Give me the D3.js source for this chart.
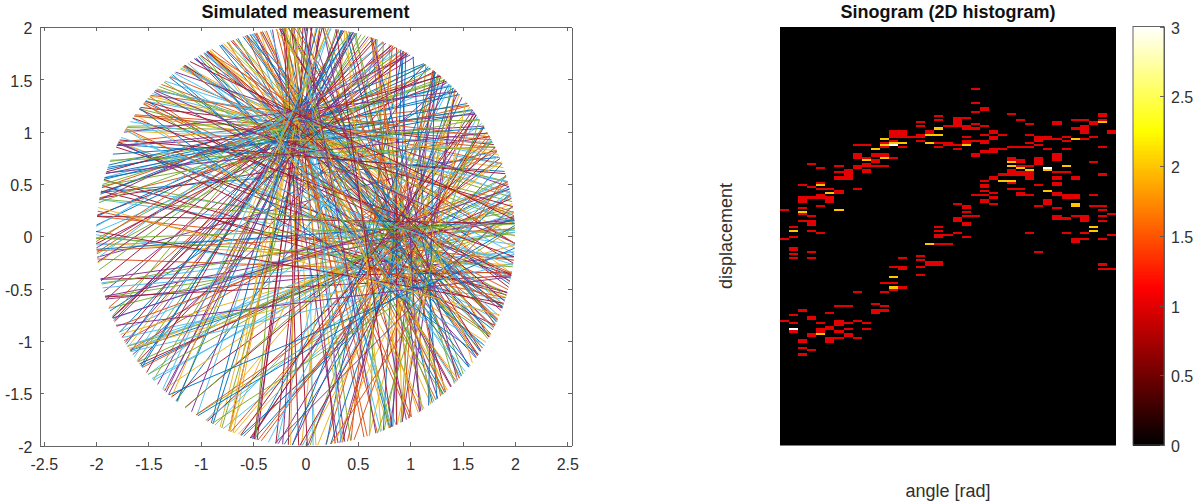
<!DOCTYPE html>
<html lang="en">
<head>
<meta charset="UTF-8">
<title>Simulated measurement and sinogram</title>
<script src="https://d3js.org/d3.v7.min.js"></script>
<style>
    body { margin: 0; background: #fff; font-family: "Liberation Sans", Arial, sans-serif; }
    svg { display: block; }
    .tick text { font-size: 16px; fill: #303030; font-family: "Liberation Sans", Arial, sans-serif; }
    .axis path, .axis line { stroke: #555; stroke-width: 0.9px; shape-rendering: crispEdges; }
    .chart-title { font-size: 18px; font-weight: bold; text-anchor: middle; fill: #111; }
    .axis-label { font-size: 18px; text-anchor: middle; fill: #303030; }
</style>
</head>
<body>
<svg width="1199" height="504"></svg>
<script>
// tick labels
const xTicks = [-2.5, -2, -1.5, -1, -0.5, 0, 0.5, 1, 1.5, 2, 2.5];
const yTicks = [-2, -1.5, -1, -0.5, 0, 0.5, 1, 1.5, 2];
const barTicks = [0, 0.5, 1, 1.5, 2, 2.5, 3];

// the spots the measured lines cross (C is the loose middle group)
const focusA = [-0.05, 1.0];
const focusB = [0.95, -0.2];
const focusC = [0.45, 0.35];

// line direction in degrees and how far it misses the spot
const anglesA = [
    12,97,43,151,71,168,28,120,3,84,137,56,176,18,105,64,143,35,91,160,
    8,128,49,77,172,23,112,59,146,38,88,156,15,101,68,133,31,174,52,117,
    6,81,140,46,94,163,21,124,62,178,10,108,74,149,33,86,166,26,114,55,
    136,41,99,170,14,79,130,50,158,19,104,66,144,36,92,175,5,122,58,153,
    29,83,139,45,110,72,165,17,96,126,53,147,9,76,179,39,116,61,155,24,
    89,134,47,102,69,162,13,119,1,82,142,34,107,57,171,20,93,129,44,152,
    11,78,167,27,113,63,138,4,98,159,
    16,173,7,169,22,177,2,164,14,157,37,125,80,103,60,148,25,95,54,118,
    10,175,19,161,30,131,67,85,42,141,6,171,75,109,50,154,33,100,65,127
];
const missA = [
    .03,-.06,.09,-.02,.05,-.1,.01,.07,-.04,-.08,.02,.11,-.05,.04,-.09,.06,-.01,.08,-.07,.03,
    -.03,.1,-.06,.02,.07,-.12,.04,-.02,.09,-.05,.01,-.08,.06,-.04,.12,-.01,.05,-.07,.03,-.1,
    .08,-.03,.02,-.09,.06,.01,-.05,.1,-.02,.04,-.11,.07,-.06,.03,.09,-.04,-.01,.05,-.08,.02,
    .06,-.07,.11,-.03,.01,.08,-.1,.04,-.02,.07,-.05,.03,-.09,.06,.12,-.01,.02,-.06,.09,-.04,
    -.08,.05,.01,-.03,.1,-.07,.04,.07,-.02,-.11,.03,.08,-.05,.06,-.01,.09,-.04,.02,-.07,.05,
    .04,-.09,.07,-.02,.01,-.06,.1,-.03,.08,.03,-.1,.05,-.01,.06,-.08,.02,.09,-.05,-.03,.07,
    -.04,.06,.02,-.07,.11,-.02,.04,-.09,.01,.08,
    .14,-.17,.2,-.12,.16,.08,-.21,.13,-.15,.18,.2,-.14,.17,-.2,.12,-.18,.22,-.13,.15,.2,
    -.18,.23,.11,-.15,.19,-.22,.14,.17,-.12,.21,-.2,.16,.1,-.19,.24,-.14,.18,-.21,.15,-.11
];
const anglesB = [
    145,32,88,6,118,61,171,44,100,19,135,75,157,2,52,110,26,82,164,128,
    39,96,14,150,67,123,177,30,85,9,141,56,105,21,161,73,116,48,133,3,
    92,169,36,126,59,12,103,147,79,24,174,64,138,42,113,17,154,70,97,7,
    130,50,86,166,27,121,62,143,34,108,1,77,159,46,94,16,136,55,178,83,
    22,115,68,148,40,101,11,172,58,125,29,90,153,74,5,139,47,106,163,35,
    81,19,131,65,176,43,111,8,146,71,99,25,156,53,119,37,87,15,134,60,
    168,104,28,142,76,10,122,49,93,151,
    4,137,112,179,20,152,63,89,127,33,170,57,102,13,144,78,41,160,117,7,
    149,31,95,175,54,124,18,162,69,107,2,140,84,45,129,23,165,72,98,155
];
const missB = [
    .14,-.22,.06,-.1,.19,-.04,.25,-.16,.09,.01,-.2,.12,-.07,.22,.03,-.14,.17,-.25,.08,-.01,
    -.18,.1,.21,-.06,.15,-.26,.02,.18,-.11,.07,-.21,.25,-.04,.11,-.14,.2,.04,-.09,.16,-.23,
    .08,-.17,.23,-.02,.12,-.19,.06,.26,-.12,.1,-.08,.18,.01,-.22,.14,-.04,.21,-.14,.03,.11,
    -.25,.17,-.07,.09,.2,-.11,.02,-.18,.24,.07,-.16,.14,-.03,.19,-.21,.04,-.1,.22,.12,-.06,
    .16,-.01,.1,-.2,.25,-.08,.18,-.14,.03,-.24,.21,.08,-.17,.11,-.04,.14,.01,-.12,.19,-.09,
    -.22,.06,.23,-.14,.02,.14,-.07,.2,-.19,.09,-.02,.17,-.26,.04,.22,-.1,.12,-.16,.07,-.03,
    .18,-.2,.11,.03,-.08,.25,-.14,.16,-.06,.1,
    .28,-.31,.26,-.34,.32,-.27,.36,-.25,.3,-.33,.27,-.38,.31,-.29,.34,-.26,.29,-.36,.25,-.31,
    .33,-.28,.37,-.3,.27,-.35,.31,-.25,.36,-.32,.28,-.29,.33,-.38,.24,-.33,.3,-.27,.35,-.29
];
const anglesC = [
    158,24,112,71,5,139,46,93,172,30,125,61,15,150,84,37,104,166,53,118,
    9,143,76,27,98,176,41,131,66,19,155,88,33,109,162,50,123,3,146,79
];
const missC = [
    .32,-.25,.16,-.38,.28,-.13,.4,-.31,.21,-.18,.36,-.27,.1,-.41,.24,-.16,.31,-.35,.19,-.23,
    .39,-.3,.14,-.21,.34,-.37,.26,-.12,.18,-.33,.3,-.24,.37,-.15,.22,-.29,.13,-.36,.35,-.2
];

// sinogram: occupied displacement bins in each of the 37 angle bins
const hitsOnce = [
    [87,101,140],
    [95,100,105,106,108,110,137,141,145],
    [75,81,82,83,86,89,92,135,149,150,153,156],
    [65,76,81,90,92,93,94,97,107,110,138,139,146,147,154],
    [67,74,77,80,81,85,98,141,144,145],
    [77,81,82,83,136,143,144,148,149,150],
    [66,69,71,72,78,79,133,140,141,142,145,148],
    [68,69,70,71,72,133,141,144,146,147],
    [56,60,61,62,66,67,77,126,140,148],
    [56,62,65,66,68,69,141,144],
    [60,61,63,64,66,132,135,136],
    [55,57,60,61,66,122,126,133,135],
    [49,50,51,52,54,62,114,122,125],
    [49,50,51,52,57,110,114,115,124],
    [52],
    [45,47,51,52,54,109,111,114,118],
    [49,50,112,113],
    [42,44,55,57,95,97,99,100,103,112,113],
    [47,55,56,99,103],
    [43,44,45,46,47,56,58,84,91,92,98],
    [43,47,48,52,54,55,85,86,88,90,93,94,100],
    [29,36,40,46,48,54,60,61,80,90],
    [38,39,47,51,54,55,59,73,75,76,78,80,82,83],
    [49,50,52,53,58,59,71,72,79,81,84],
    [51,58,70],
    [41,57,62,63,68,69,70,74,77],
    [44,57,63,64,66,69,70,77,79,80],
    [46,51,55,57,66,69,70,71,72,80,98],
    [52,53,54,56,62,63,64,65,75,85,107],
    [52,53,58,82,83,84],
    [45,46,53,60,61,62,63,69,71,72,74,75,79,80,86,90,91],
    [52,54,58,69,80,81,91,98],
    [44,48,71,72,80,81,90,101,102],
    [44,47,48,49,50,53,90,91,92,98,101],
    [45,46,52,64,80,85],
    [41,42,44,57,70,85,87,90,92,101,113,115],
    [49,50,89,99,115]
];
const hitsTwice = [
    [],[97],[88],[],[75,146],[79],[87],[],[],[63],[58],[53,56,62],[55,119,124],[55],[],[],
    [51,55,103],[48,51],[],[],[56],[],[],[],[73],[64,66,73],[67],[68],[],[68,78],[],[66],
    [53,84,85],[],[95,97],[45],[]
];
const hitsThrice = {1: [144], 12: [56], 29: [67]};

const lineColors = ["#0072BD", "#D95319", "#EDB120", "#7E2F8E", "#77AC30", "#4DBEEE", "#A2142F"];

const svg = d3.select("svg");

// ---- left plot
const x = d3.scaleLinear().domain([-2.536, 2.54]).range([40, 571.5]);
const y = d3.scaleLinear().domain([-2, 2]).range([445.5, 27]);

function chord(focus, angle, miss) {
    const a = angle * Math.PI / 180;
    const dir = [Math.cos(a), Math.sin(a)];
    const nrm = [-dir[1], dir[0]];
    const s = focus[0] * nrm[0] + focus[1] * nrm[1] + miss;
    const h = Math.sqrt(4 - s * s);
    return [
        [s * nrm[0] - h * dir[0], s * nrm[1] - h * dir[1]],
        [s * nrm[0] + h * dir[0], s * nrm[1] + h * dir[1]]
    ];
}

const chords = d3.merge(anglesA.map((a, i) => [
    chord(focusA, a, missA[i]),
    chord(focusB, anglesB[i], missB[i]),
    ...(i < anglesC.length ? [chord(focusC, anglesC[i], missC[i])] : [])
]));
const linePath = d3.line().x(d => x(d[0])).y(d => y(d[1]));

svg.append("g").selectAll("path")
    .data(chords)
    .enter().append("path")
    .attr("d", linePath)
    .attr("fill", "none")
    .attr("stroke", (d, i) => lineColors[i % lineColors.length])
    .attr("stroke-width", 0.95);

svg.append("g").attr("class", "axis").attr("transform", "translate(0,445.5)")
    .call(d3.axisBottom(x).tickValues(xTicks).tickSize(-4).tickSizeOuter(0).tickPadding(13).tickFormat(d => d));
svg.append("g").attr("class", "axis").attr("transform", "translate(0,27)")
    .call(d3.axisTop(x).tickValues(xTicks).tickSize(-4).tickSizeOuter(0).tickFormat(""));
svg.append("g").attr("class", "axis").attr("transform", "translate(40,0)")
    .call(d3.axisLeft(y).tickValues(yTicks).tickSize(-4).tickSizeOuter(0).tickPadding(7.5).tickFormat(d => d))
    .selectAll("text").attr("dy", "0.42em");
svg.append("g").attr("class", "axis").attr("transform", "translate(571.5,0)")
    .call(d3.axisRight(y).tickValues(yTicks).tickSize(-4).tickSizeOuter(0).tickFormat(""));

svg.append("text").attr("class", "chart-title").attr("x", 305.5).attr("y", 18).text("Simulated measurement");

// ---- sinogram
const angleBin = d3.scaleBand().domain(d3.range(hitsOnce.length)).range([780, 1116]);
const dispBin = d3.scaleBand().domain(d3.range(200)).range([27, 445.5]);

const hot = d3.scaleLinear()
    .domain([0, 1.125, 2.25, 3])
    .range(["#000000", "#ff0000", "#ffff00", "#ffffff"]);

const cells = [];
hitsOnce.forEach((rows, col) => rows.forEach(row => cells.push({col, row, count: 1})));
hitsTwice.forEach((rows, col) => rows.forEach(row => cells.push({col, row, count: 2})));
Object.entries(hitsThrice).forEach(([col, rows]) => rows.forEach(row => cells.push({col: +col, row, count: 3})));

svg.append("rect")
    .attr("x", 780).attr("y", 27).attr("width", 336).attr("height", 418.5)
    .attr("fill", hot(0));

svg.append("g").attr("shape-rendering", "crispEdges").selectAll("rect")
    .data(cells)
    .enter().append("rect")
    .attr("x", d => angleBin(d.col))
    .attr("y", d => dispBin(d.row))
    .attr("width", angleBin.bandwidth())
    .attr("height", dispBin.bandwidth())
    .attr("fill", d => hot(d.count));

svg.append("text").attr("class", "chart-title").attr("x", 948).attr("y", 18).text("Sinogram (2D histogram)");
svg.append("text").attr("class", "axis-label").attr("x", 948).attr("y", 497).text("angle [rad]");
svg.append("text").attr("class", "axis-label")
    .attr("transform", "translate(732,236) rotate(-90)").text("displacement");

// ---- colorbar
const bar = d3.scaleLinear().domain([0, 3]).range([445, 26.5]);
const barStep = 3 / 256;
svg.append("g").attr("shape-rendering", "crispEdges").selectAll("rect")
    .data(d3.range(0, 3, barStep))
    .enter().append("rect")
    .attr("x", 1133)
    .attr("y", d => bar(d + barStep))
    .attr("width", 31)
    .attr("height", d => bar(d) - bar(d + barStep) + 0.5)
    .attr("fill", d => hot(d));

svg.append("g").attr("class", "axis").attr("transform", "translate(1164,0)")
    .call(d3.axisRight(bar).tickValues(barTicks).tickSize(-4).tickSizeOuter(0).tickPadding(7).tickFormat(d => d))
    .selectAll("text").attr("dy", "0.42em");
svg.append("rect")
    .attr("x", 1133).attr("y", 26.5).attr("width", 31).attr("height", 418.5)
    .attr("fill", "none").attr("stroke", "#555").attr("stroke-width", 0.9);
</script>
</body>
</html>
